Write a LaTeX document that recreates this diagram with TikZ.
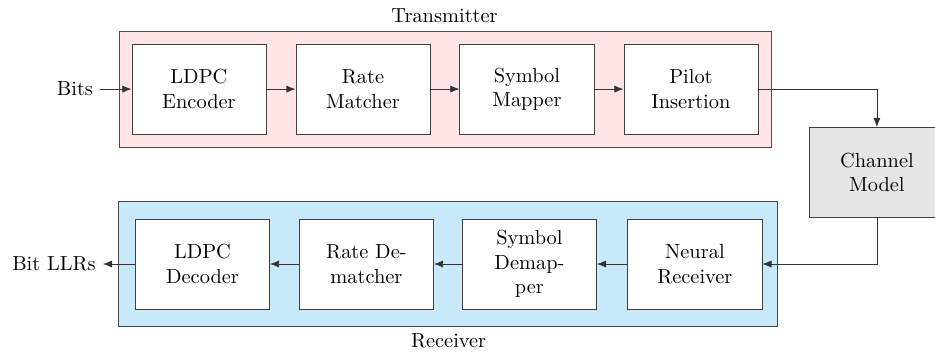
\documentclass[tikz,border=0pt]{standalone}
\usetikzlibrary{arrows.meta}

\definecolor{txpink}{RGB}{255,229,229}
\definecolor{rxblue}{RGB}{199,233,249}
\definecolor{chgray}{RGB}{230,230,230}

\begin{document}
\begin{tikzpicture}[
    block/.style={draw=black!75,fill=white,text width=1.5cm,align=center,minimum width=2.31cm,minimum height=1.55cm},
    link/.style={draw=black!80,-{Latex[length=4.5pt,width=3.5pt]}}
    ]

    \useasboundingbox (0,0) rectangle (16.11,6.10);

    % frames
    \draw[draw=black!70,fill=txpink] (2.05,3.566) rectangle (13.283,5.565);
    \draw[draw=black!70,fill=rxblue] (2.033,0.482) rectangle (13.403,2.636);
    \node (txlabel) at (7.66,5.823) {Transmitter};
    \node (rxlabel) at (7.73,0.23) {Receiver};

    % transmitter
    \node (bits) at (1.292,4.565) {Bits};
    \node[block] (enc) at (3.428,4.565) {LDPC Encoder};
    \node[block] (match) at (6.254,4.565) {Rate Matcher};
    \node[block] (mapper) at (9.079,4.565) {Symbol Mapper};
    \node[block] (pilot) at (11.905,4.565) {Pilot Insertion};

    \node[block,fill=chgray] (channel) at (15.109,3.127) {Channel Model};

    % receiver
    \node[block] (neural) at (11.973,1.551) {Neural Receiver};
    \node[block] (demap) at (9.122,1.551) {Symbol Demapper};
    \node[block] (dematch) at (6.314,1.551) {Rate Dematcher};
    \node[block] (dec) at (3.489,1.551) {LDPC Decoder};
    \node (llrs) at (0.93,1.551) {Bit LLRs};

    \draw[link] (bits) -- (enc);
    \draw[link] (enc) -- (match);
    \draw[link] (match) -- (mapper);
    \draw[link] (mapper) -- (pilot);
    \draw[link] (pilot.east) -| (channel.north);
    \draw[link] (channel.south) |- (neural.east);
    \draw[link] (neural) -- (demap);
    \draw[link] (demap) -- (dematch);
    \draw[link] (dematch) -- (dec);
    \draw[link] (dec) -- (llrs);

\end{tikzpicture}
\end{document}
